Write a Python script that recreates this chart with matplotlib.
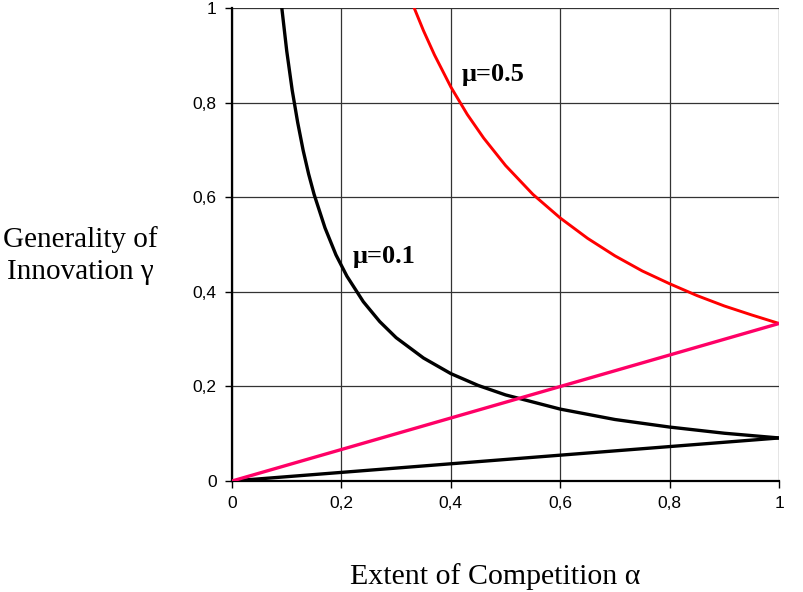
import matplotlib.pyplot as plt

# values
alpha_mu01 = [0.091, 0.10, 0.11, 0.12, 0.13, 0.14, 0.15, 0.17, 0.19, 0.21, 0.24,
              0.27, 0.30, 0.35, 0.40, 0.45, 0.50, 0.60, 0.70, 0.80, 0.90, 1.00]
gamma_mu01 = [1.0, 0.909, 0.826, 0.758, 0.699, 0.649, 0.606, 0.535, 0.478, 0.433, 0.379,
              0.337, 0.303, 0.260, 0.227, 0.202, 0.182, 0.152, 0.130, 0.114, 0.101, 0.091]

alpha_mu05 = [0.333, 0.35, 0.37, 0.40, 0.43, 0.46, 0.50, 0.55, 0.60, 0.65, 0.70,
              0.75, 0.80, 0.85, 0.90, 0.95, 1.00]
gamma_mu05 = [1.0, 0.952, 0.901, 0.833, 0.775, 0.725, 0.667, 0.606, 0.556, 0.513, 0.476,
              0.444, 0.417, 0.392, 0.370, 0.351, 0.333]

alpha_line = [0.0, 1.0]
gamma_line01 = [0.0, 0.091]
gamma_line05 = [0.0, 0.333]

ticks = [0, 0.2, 0.4, 0.6, 0.8, 1]
tick_labels = ['0', '0,2', '0,4', '0,6', '0,8', '1']

fig = plt.figure(figsize=(8.04, 5.92), dpi=100)
ax = fig.add_axes([0.2886, 0.1875, 0.6804, 0.799])

ax.plot(alpha_mu01, gamma_mu01, color='black', lw=2.4, zorder=3)
ax.plot(alpha_line, gamma_line01, color='black', lw=2.4, zorder=3)
ax.plot(alpha_mu05, gamma_mu05, color='#ff0000', lw=2.1, zorder=3)
ax.plot(alpha_line, gamma_line05, color='#ff0066', lw=2.4, zorder=3)

ax.set_xlim(0, 1)
ax.set_ylim(0, 1)
ax.set_xticks(ticks)
ax.set_xticklabels(tick_labels, family='Liberation Sans', fontsize=12.5)
ax.set_yticks(ticks)
ax.set_yticklabels(tick_labels, family='Liberation Sans', fontsize=12.5)
ax.tick_params(direction='out', length=5, width=1, pad=6)

ax.grid(True, color='#333333', lw=0.9)
ax.set_axisbelow(True)
for s in ['top', 'right']:
    ax.spines[s].set_visible(False)
for s in ['left', 'bottom']:
    ax.spines[s].set_linewidth(1.6)

ax.text(0.42, 0.86, 'μ=0.5', fontsize=19, fontweight='bold',
        family='Liberation Serif', va='center')
ax.text(0.221, 0.475, 'μ=0.1', fontsize=19, fontweight='bold',
        family='Liberation Serif', va='center')

fig.text(0.0995, 0.569, 'Generality of\nInnovation γ', fontsize=21,
         family='Liberation Serif', ha='center', va='center', linespacing=1.3)
fig.text(0.616, 0.027, 'Extent of Competition α', fontsize=21.5,
         family='Liberation Serif', ha='center', va='center')

fig.savefig('out.png', dpi=100)
